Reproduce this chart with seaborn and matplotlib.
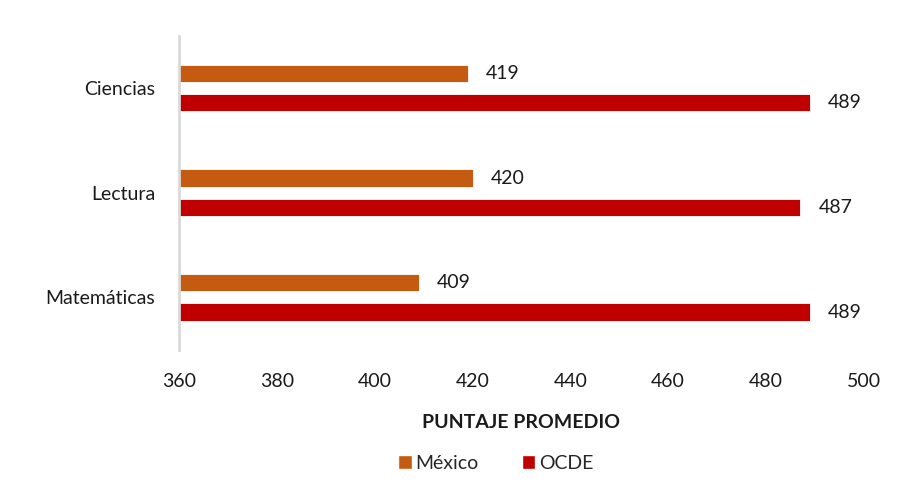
import matplotlib
matplotlib.use("Agg")
import matplotlib.pyplot as plt
import seaborn as sns
import pandas as pd

categories = ["Ciencias", "Lectura", "Matemáticas"]
series = ["México", "OCDE"]
mexico = [419, 420, 409]
ocde = [489, 487, 489]
xticks = [360, 380, 400, 420, 440, 460, 480, 500]
colors = {"México": "#C55A11", "OCDE": "#C00000"}

df = pd.DataFrame({
    "Materia": categories * 2,
    "Serie": ["México"] * 3 + ["OCDE"] * 3,
    "Puntaje": mexico + ocde,
})

sns.set_theme(style="white")
plt.rcParams["font.family"] = ["Lato", "DejaVu Sans"]

fig = plt.figure(figsize=(9.18, 5.04), dpi=100)
ax = fig.add_axes([0.195, 0.306, 0.746, 0.623])

sns.barplot(data=df, y="Materia", x="Puntaje", hue="Serie", order=categories,
            hue_order=series, palette=colors, orient="h", width=0.56, gap=0.41,
            saturation=1, ax=ax, legend=False, errorbar=None,
            edgecolor="white", linewidth=0.6)

for cont in ax.containers:
    ax.bar_label(cont, labels=[f"{v:.0f}" for v in cont.datavalues],
                 padding=13, fontsize=14, color="#1a1a1a")

ax.set_xlim(360, 500)
ax.set_ylim(2.5, -0.5)
ax.set_xticks(xticks)
ax.set_xticklabels([str(t) for t in xticks], fontsize=14, color="#1a1a1a")
ax.tick_params(axis="y", labelsize=14, colors="#1a1a1a", length=0, pad=17)
ax.tick_params(axis="x", length=0, pad=17)
ax.set_ylabel("")
ax.set_xlabel("PUNTAJE PROMEDIO", fontsize=14, fontweight="bold", color="#1a1a1a", labelpad=17)

for s in ["top", "right", "bottom"]:
    ax.spines[s].set_visible(False)
ax.spines["left"].set_color("#D9D9D9")
ax.spines["left"].set_linewidth(2)

from matplotlib.patches import Patch
handles = [Patch(facecolor=colors[s], label=s) for s in series]
fig.legend(handles=handles, loc="center", bbox_to_anchor=(0.54, 0.081), ncol=2,
           frameon=False, fontsize=14, handlelength=0.7, handleheight=0.7,
           handletextpad=0.2, columnspacing=2.2)

fig.savefig("out.png", dpi=100)
